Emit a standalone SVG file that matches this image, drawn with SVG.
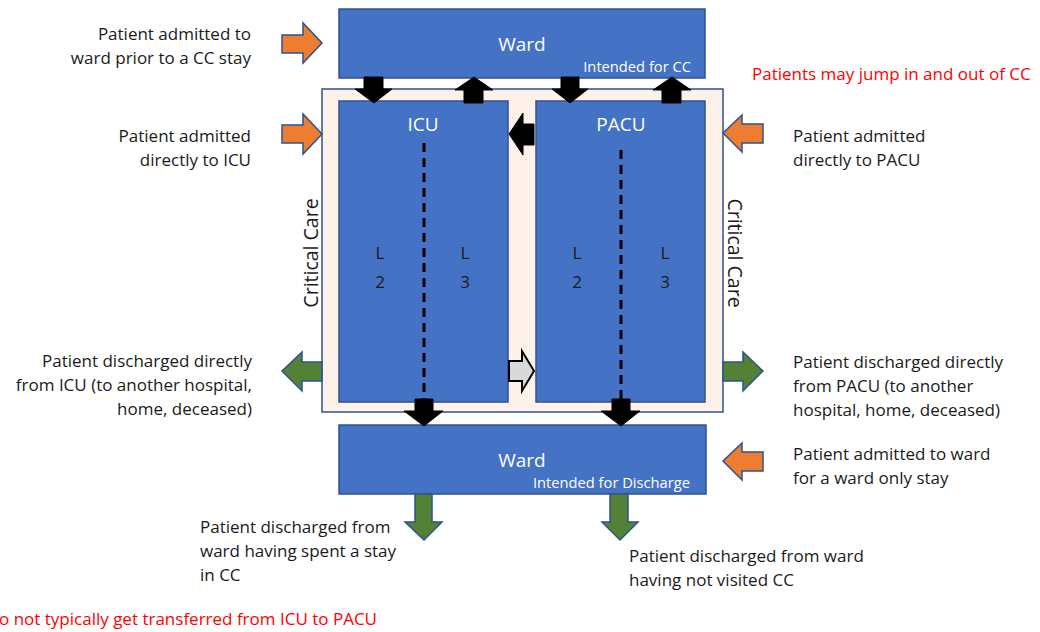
<svg xmlns="http://www.w3.org/2000/svg" width="1040" height="632" viewBox="0 0 1040 632">
<style>
.box{fill:#4472C4;stroke:#2F528F;stroke-width:1.5}
.frame{fill:#FDF1EA;stroke:#2F528F;stroke-width:1.5}
.wt{fill:#fff;font-family:"Open Sans","Liberation Sans",sans-serif}
.t{fill:#1a1a1a;font-family:"Open Sans","Liberation Sans",sans-serif;font-size:17px}
.red{fill:#FF0000;font-family:"Open Sans","Liberation Sans",sans-serif;font-size:17px}
.blk{fill:#000;stroke:#000;stroke-width:1}
.gray{fill:#D9D9D9;stroke:#000;stroke-width:2}
.or{fill:#ED7D31;stroke:#2F528F;stroke-width:1.5}
.gr{fill:#548235;stroke:#2F528F;stroke-width:1.5}
.dash{stroke:#000;stroke-width:3;stroke-dasharray:9,6;fill:none}
</style>
<g id="critical-care">
<rect class="frame" x="322" y="89" width="401" height="323"/>
<text class="t" style="font-size:19.5px" transform="translate(318,253) rotate(-90)" text-anchor="middle">Critical Care</text>
<text class="t" style="font-size:19.5px" transform="translate(728,253) rotate(90)" text-anchor="middle">Critical Care</text>
</g>
<g id="ward-top">
<rect class="box" x="339" y="9" width="366" height="69"/>
<text class="wt" x="522" y="51" font-size="19" text-anchor="middle">Ward</text>
<text class="wt" x="691" y="72" font-size="14.7" text-anchor="end">Intended for CC</text>
</g>
<g id="icu">
<rect class="box" x="339" y="101" width="169" height="301"/>
<text class="wt" x="423" y="131" font-size="19" text-anchor="middle">ICU</text>
<text class="t" x="380" y="259" text-anchor="middle">L</text>
<text class="t" x="380" y="288" text-anchor="middle">2</text>
<text class="t" x="465" y="259" text-anchor="middle">L</text>
<text class="t" x="465" y="288" text-anchor="middle">3</text>
</g>
<g id="pacu">
<rect class="box" x="536" y="101" width="169" height="301"/>
<text class="wt" x="621" y="131" font-size="19" text-anchor="middle">PACU</text>
<text class="t" x="577" y="259" text-anchor="middle">L</text>
<text class="t" x="577" y="288" text-anchor="middle">2</text>
<text class="t" x="665" y="259" text-anchor="middle">L</text>
<text class="t" x="665" y="288" text-anchor="middle">3</text>
</g>
<g id="ward-bottom">
<rect class="box" x="339" y="425" width="367" height="69"/>
<text class="wt" x="522" y="467" font-size="19" text-anchor="middle">Ward</text>
<text class="wt" x="690" y="488" font-size="14.7" text-anchor="end">Intended for Discharge</text>
</g>
<g id="connectors">
<line class="dash" x1="424" y1="143" x2="424" y2="399"/>
<line class="dash" x1="621" y1="150" x2="621" y2="399"/>
<polygon class="blk" points="364,77 383,77 383,89 392,89 374,103 355,89 364,89"/>
<polygon class="blk" points="464,103 483,103 483,90 493,90 474,77 455,90 464,90"/>
<polygon class="blk" points="561,77 579,77 579,89 588,89 570,103 552,89 561,89"/>
<polygon class="blk" points="662,103 681,103 681,90 691,90 672,77 653,90 662,90"/>
<polygon class="blk" points="534,124 534,145 523,145 523,155 509,134 523,113 523,124"/>
<polygon class="gray" points="509,361 522,361 522,351 534,371 522,391 522,381 509,381"/>
<polygon class="blk" points="415,399 433,399 433,411 443,411 424,426 404,411 415,411"/>
<polygon class="blk" points="612,399 630,399 630,411 640,411 621,426 601,411 612,411"/>
<polygon class="or" points="282,35 303,35 303,23 322,43 303,63 303,53 282,53"/>
<polygon class="or" points="282,125 303,125 303,114 322,134 303,154 303,143 282,143"/>
<polygon class="or" points="763,124 742,124 742,115 723,133 742,152 742,143 763,143"/>
<polygon class="or" points="763,452 742,452 742,443 723,461 742,480 742,471 763,471"/>
<polygon class="gr" points="322,362 302,362 302,352 282,371 302,391 302,381 322,381"/>
<polygon class="gr" points="723,362 743,362 743,352 763,371 743,391 743,381 723,381"/>
<polygon class="gr" points="415,494 432,494 432,522 442,522 424,540 405,522 415,522"/>
<polygon class="gr" points="610,494 628,494 628,522 638,522 620,540 602,522 610,522"/>
</g>
<g id="labels">
<text class="t" x="251" y="40" text-anchor="end">Patient admitted to</text>
<text class="t" x="251" y="64" text-anchor="end">ward prior to a CC stay</text>
<text class="t" x="251" y="142" text-anchor="end">Patient admitted</text>
<text class="t" x="251" y="166" text-anchor="end">directly to ICU</text>
<text class="t" x="252" y="367" text-anchor="end">Patient discharged directly</text>
<text class="t" x="252" y="391" text-anchor="end">from ICU (to another hospital,</text>
<text class="t" x="252" y="415" text-anchor="end">home, deceased)</text>
<text class="t" x="793" y="142">Patient admitted</text>
<text class="t" x="793" y="166">directly to PACU</text>
<text class="t" x="793" y="368">Patient discharged directly</text>
<text class="t" x="793" y="392">from PACU (to another</text>
<text class="t" x="793" y="416">hospital, home, deceased)</text>
<text class="t" x="793" y="460">Patient admitted to ward</text>
<text class="t" x="793" y="484">for a ward only stay</text>
<text class="t" x="200" y="533">Patient discharged from</text>
<text class="t" x="200" y="557">ward having spent a stay</text>
<text class="t" x="200" y="581">in CC</text>
<text class="t" x="629" y="562">Patient discharged from ward</text>
<text class="t" x="629" y="586">having not visited CC</text>
<text class="red" x="-1" y="625">o not typically get transferred from ICU to PACU</text>
<text class="red" x="752" y="80">Patients may jump in and out of CC</text>
</g>
</svg>
